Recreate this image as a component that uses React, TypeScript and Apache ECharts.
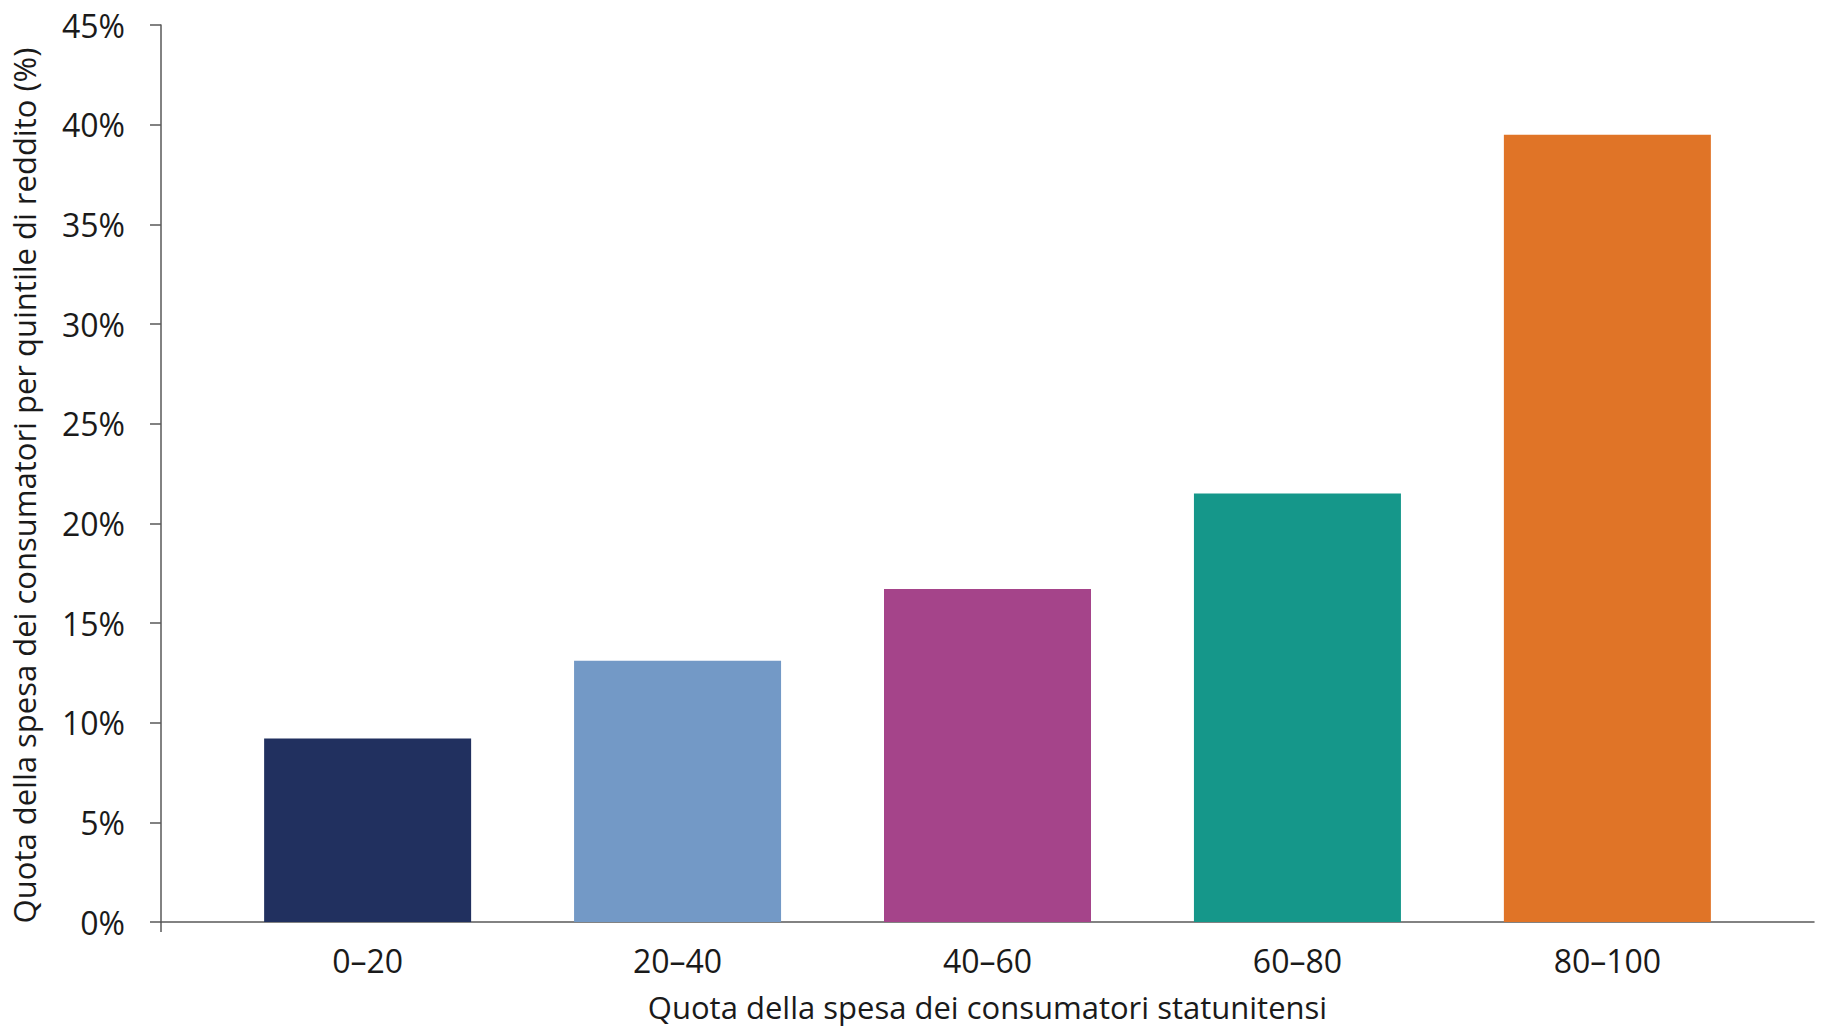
import { useEffect, useRef } from 'react';
import * as echarts from 'echarts';

// quintiles of income
const categories = ['0–20', '20–40', '40–60', '60–80', '80–100'];
// share of US consumer spending (%)
const shares = [9.2, 13.1, 16.7, 21.5, 39.5];
const barColors = ['#21305F', '#7399C6', '#A5448A', '#15978A', '#E07427'];
const yTicks = [0, 5, 10, 15, 20, 25, 30, 35, 40, 45];

const xTitle = 'Quota della spesa dei consumatori statunitensi';
const yTitle = 'Quota della spesa dei consumatori per quintile di reddito (%)';

const FONT = '"Open Sans", "Noto Sans", sans-serif';

export default function App() {
  const chartRef = useRef<HTMLDivElement>(null);

  useEffect(() => {
    if (!chartRef.current) return;
    const chart = echarts.init(chartRef.current, null, { renderer: 'svg' });

    // outer padding of the category axis, in category units
    const pad = 2 / 3;

    const option: echarts.EChartsOption = {
      animation: false,
      backgroundColor: '#ffffff',
      textStyle: { fontFamily: FONT },
      grid: { left: 158, right: 17, top: 25, bottom: 111 },
      xAxis: {
        type: 'value',
        min: -pad,
        max: categories.length - 1 + pad,
        splitLine: { show: false },
        axisLine: { onZero: false, lineStyle: { color: '#595959', width: 1.5 } },
        axisTick: {
          show: true,
          customValues: [-pad],
          length: 10,
          lineStyle: { color: '#595959', width: 1.5 },
        },
        axisLabel: {
          customValues: categories.map((_, i) => i),
          formatter: (v: number) => categories[Math.round(v)] ?? '',
          fontSize: 32,
          color: '#1a1a1a',
          fontFamily: FONT,
          margin: 22,
        },
        name: xTitle,
        nameLocation: 'middle',
        nameGap: 69,
        nameTextStyle: { fontSize: 31, color: '#1a1a1a', fontFamily: FONT },
      },
      yAxis: {
        type: 'value',
        min: yTicks[0],
        max: yTicks[yTicks.length - 1],
        interval: 5,
        splitLine: { show: false },
        axisLine: { show: true, onZero: false, lineStyle: { color: '#595959', width: 1.5 } },
        axisTick: { show: true, length: 11, lineStyle: { color: '#595959', width: 1.5 } },
        axisLabel: {
          formatter: '{value}%',
          fontSize: 32,
          color: '#1a1a1a',
          fontFamily: FONT,
          margin: 36,
        },
        name: yTitle,
        nameLocation: 'middle',
        nameGap: 122,
        nameTextStyle: {
          fontSize: 31,
          color: '#1a1a1a',
          fontFamily: FONT,
          padding: [0, 24, 0, 0],
        },
      },
      series: [
        {
          type: 'bar',
          barWidth: 207,
          data: shares.map((v, i) => ({
            value: [i, v],
            itemStyle: { color: barColors[i] },
          })),
        },
      ],
    };

    chart.setOption(option);
    return () => chart.dispose();
  }, []);

  return (
    <div
      ref={chartRef}
      style={{ position: 'absolute', left: 0, top: 0, width: 1831, height: 1033 }}
    />
  );
}
